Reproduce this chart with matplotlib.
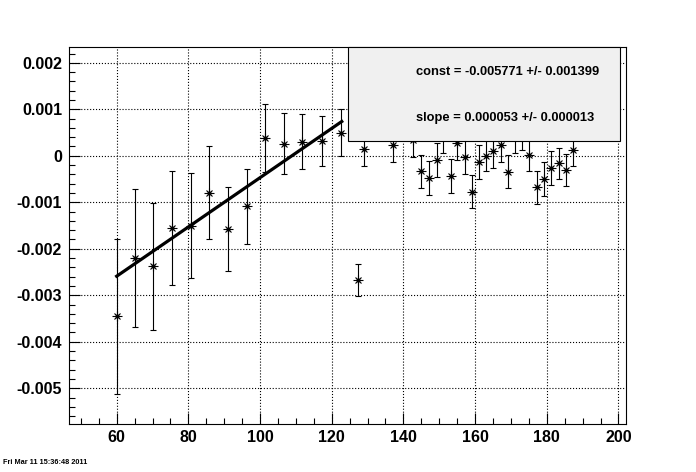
import matplotlib
matplotlib.use('Agg')
import matplotlib.pyplot as plt
import numpy as np
from matplotlib.patches import Rectangle
from matplotlib.ticker import MultipleLocator, FuncFormatter

# points (y and errors in units of 1e-3)
x_pts = [60, 65, 70.2, 75.5, 80.6, 85.8, 91.1, 96.3, 101.4, 106.7, 111.8, 117.2, 122.6,
         127.2, 129.1, 137.2, 142.8, 144.9, 147.2, 149.3, 151.1, 153.2, 155, 157.3,
         159.2, 161.2, 163.1, 165.1, 167.2, 169.3, 171.2, 173, 175.1, 177.2, 179.3,
         181.2, 183.3, 185.3, 187.4]
y_pts = [-3.455, -2.20, -2.38, -1.55, -1.50, -0.80, -1.57, -1.09, 0.38, 0.264, 0.30, 0.32, 0.50,
         -2.667, 0.144, 0.236, 0.33, -0.337, -0.48, -0.086, 0.43, -0.43, 0.285, -0.02,
         -0.77, -0.13, 0.0, 0.107, 0.236, -0.343, 0.43, 0.48, 0.02, -0.68, -0.5,
         -0.264, -0.165, -0.307, 0.122]
y_err = [1.66, 1.49, 1.36, 1.22, 1.12, 1.0, 0.9, 0.81, 0.73, 0.65, 0.59, 0.54, 0.5,
         0.34, 0.37, 0.36, 0.35, 0.35, 0.36, 0.36, 0.36, 0.36, 0.37, 0.37,
         0.36, 0.36, 0.33, 0.37, 0.36, 0.36, 0.36, 0.36, 0.35, 0.36, 0.37,
         0.36, 0.34, 0.35, 0.35]

fit_const = -0.005771
fit_slope = 0.000053
fit_range = [60, 122.8]
stats_lines = ['const = -0.005771 +/- 0.001399', 'slope = 0.000053 +/- 0.000013']
date_text = 'Fri Mar 11 15:36:48 2011'

x = np.array(x_pts)
y = np.array(y_pts) * 1e-3
err = np.array(y_err) * 1e-3

plt.rcParams['font.family'] = ['Liberation Sans', 'DejaVu Sans']
plt.rcParams['font.weight'] = 'bold'

W, H = 696, 472
fig = plt.figure(figsize=(W / 100, H / 100), dpi=100)
ax = fig.add_axes([69 / W, 1 - 424 / H, (626 - 69) / W, (424 - 47) / H])

ax.errorbar(x, y, yerr=err, fmt='none', ecolor='k', elinewidth=0.8,
            capsize=2, capthick=0.8, zorder=3)
ax.plot(x, y, '+', color='k', ms=7, mew=0.8, zorder=4)
ax.plot(x, y, 'x', color='k', ms=5, mew=0.8, zorder=4)
ax.plot(x, y, 'o', color='k', ms=2, zorder=4)

xf = np.linspace(fit_range[0], fit_range[1], 50)
ax.plot(xf, fit_const + fit_slope * xf, color='k', lw=2.3, zorder=4)

ax.set_xlim(46.7, 202.1)
ax.set_ylim(-0.00577, 0.00234)

ax.xaxis.set_major_locator(MultipleLocator(20))
ax.xaxis.set_minor_locator(MultipleLocator(5))
ax.yaxis.set_major_locator(MultipleLocator(0.001))
ax.yaxis.set_minor_locator(MultipleLocator(0.0002))
ax.yaxis.set_major_formatter(FuncFormatter(lambda v, p: '%g' % round(v, 6)))

ax.tick_params(which='both', direction='in', top=False, right=False, width=0.8,
               labelsize=11.5)
ax.tick_params(which='major', length=8)
ax.tick_params(which='minor', length=4)
ax.tick_params(axis='y', pad=5)
ax.tick_params(axis='x', pad=4)
for s in ax.spines.values():
    s.set_linewidth(0.8)

ax.grid(True, which='major', color='k', linestyle=':', linewidth=0.8)
ax.set_axisbelow(True)

# stats box
box = Rectangle((348 / W, 1 - 141 / H), (620 - 348) / W, (141 - 47) / H,
                transform=fig.transFigure, facecolor='#f0f0f0', edgecolor='k',
                lw=0.8, zorder=10, clip_on=False)
ax.add_patch(box)
ax.text(416 / W, 1 - 71.7 / H, stats_lines[0], transform=fig.transFigure,
        fontsize=9.3, va='center', ha='left', zorder=11)
ax.text(416 / W, 1 - 118.3 / H, stats_lines[1], transform=fig.transFigure,
        fontsize=9.3, va='center', ha='left', zorder=11)

fig.text(3 / W, 1 - 463 / H, date_text, fontsize=5.3, va='center', ha='left')

fig.savefig('out.png', dpi=100)
